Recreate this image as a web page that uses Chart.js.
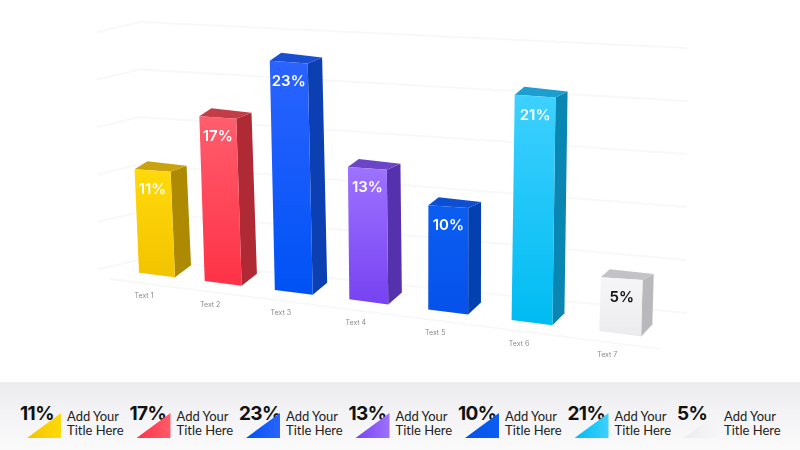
<!DOCTYPE html>
<html>
<head>
<meta charset="utf-8">
<script src="https://cdn.jsdelivr.net/npm/chart.js@4.4.1/dist/chart.umd.min.js"></script>
<style>
  body { margin: 0; width: 800px; height: 450px; overflow: hidden; background: #fff; font-family: Inter, 'Noto Sans', sans-serif; }
  #wrap { position: relative; width: 800px; height: 450px; }
  #chart { position: absolute; left: 0; top: 0; }
  #legend { position: absolute; left: 0; top: 382px; width: 800px; height: 68px;
    background: linear-gradient(#ececef, #f4f4f6 50%, #fafafb); }
  .item { position: absolute; top: 0; height: 68px; width: 110px; }
  .pct { position: absolute; left: 0; top: 20px; font: 700 19px Inter, sans-serif; color: #111; letter-spacing: -0.6px; }
  .tri { position: absolute; left: 7px; top: 31px; width: 34px; height: 25px; clip-path: polygon(100% 0, 100% 100%, 0 100%); }
  .ttl { position: absolute; left: 47px; top: 27px; font: 400 13px/14px Lato, sans-serif; color: #222; white-space: nowrap; }
</style>
</head>
<body>
<div id="wrap">
  <canvas id="chart" width="800" height="380"></canvas>
  <div id="legend"></div>
</div>
<script>
const labels = ['Text 1', 'Text 2', 'Text 3', 'Text 4', 'Text 5', 'Text 6', 'Text 7'];
const values = [11, 17, 23, 13, 10, 21, 5];
const gridSteps = [0, 5, 10, 15, 20, 25];
const legendTitles = ['Add Your<br>Title Here', 'Add Your<br>Title Here', 'Add Your<br>Title Here', 'Add Your<br>Title Here', 'Add Your<br>Title Here', 'Add Your<br>Title Here', 'Add Your<br>Title Here'];

// colours per bar: front top, front bottom, side, top face, label
const frontTop = ['#ffd90a', '#ff5d6d', '#2a63ff', '#9d72ff', '#0b5df2', '#3ed0ff', '#f6f6f8'];
const frontBottom = ['#f3c400', '#ff3247', '#0052f5', '#7843f2', '#0652ea', '#00bcf2', '#ececef'];
const sideColors = ['#ad8a00', '#b02a36', '#0b3fb2', '#5631ae', '#0340b0', '#0a86b2', '#b9b9bd'];
const topColors = ['#c9a30e', '#c23d48', '#1a4ed2', '#6a46c6', '#0c4fd2', '#1c9fd0', '#c3c3c7'];
const textColors = ['#fff', '#fff', '#fff', '#fff', '#fff', '#fff', '#111'];

// perspective constants
const X0 = 157, Y0 = 275, FLOOR = 0.127;

function barGeo(chart, i) {
  const xs = chart.scales.x;
  const bar = chart.getDatasetMeta(0).data[i];
  const step = xs.getPixelForValue(1) - xs.getPixelForValue(0);
  const u = (bar.x - xs.getPixelForValue(0)) / step;
  const k = 1 + 0.027 * u;
  const cx = bar.x + 2.2 * u * u;
  const by = Y0 + FLOOR * (cx - X0);
  return { u: u, cx: cx, by: by, h: (bar.base - bar.y) * k, w: bar.width * k };
}

function poly(ctx, pts, fill) {
  ctx.beginPath();
  ctx.moveTo(pts[0][0], pts[0][1]);
  for (let p = 1; p < pts.length; p++) ctx.lineTo(pts[p][0], pts[p][1]);
  ctx.closePath();
  ctx.fillStyle = fill;
  ctx.fill();
}

const bars3d = {
  id: 'bars3d',
  beforeDatasetsDraw(chart) {
    const ctx = chart.ctx;
    const ys = chart.scales.y;
    const y0 = ys.getPixelForValue(0);
    ctx.save();
    ctx.strokeStyle = 'rgba(60,60,110,0.035)';
    ctx.lineWidth = 2;
    gridSteps.forEach(v => {
      const yL = ys.getPixelForValue(v);
      const yR = 313 - (y0 - yL) * 1.116;
      ctx.beginPath();
      ctx.moveTo(97, yL + 10);
      ctx.lineTo(140, yL);
      ctx.lineTo(687, yR);
      ctx.stroke();
    });
    // front floor edge
    ctx.beginPath();
    ctx.moveTo(110, Y0 + FLOOR * (110 - X0) + 10);
    ctx.lineTo(660, Y0 + FLOOR * (660 - X0) + 10);
    ctx.stroke();
    ctx.restore();
  },
  afterDatasetsDraw(chart) {
    const ctx = chart.ctx;
    ctx.save();
    values.forEach((v, i) => {
      const g = barGeo(chart, i);
      const hw = g.w / 2;
      const lean = (g.cx - 440) * g.h * 1.5e-4;
      const tx = g.cx + lean, ty = g.by - g.h;
      const BL = [g.cx - hw, g.by - 0.13 * hw], BR = [g.cx + hw, g.by + 0.13 * hw];
      const TL = [tx - hw, ty - 0.07 * hw], TR = [tx + hw, ty + 0.07 * hw];
      const dx = 16 - 0.8 * g.u;
      const TRb = [TR[0] + dx, TR[1] - 6], TLb = [TL[0] + dx * 0.8, TL[1] - 8], BRb = [BR[0] + dx, BR[1] - 12];

      poly(ctx, [TR, TRb, BRb, BR], sideColors[i]);
      poly(ctx, [TL, TR, TRb, TLb], topColors[i]);
      const grad = ctx.createLinearGradient(0, ty, 0, g.by);
      grad.addColorStop(0, frontTop[i]);
      grad.addColorStop(1, frontBottom[i]);
      poly(ctx, [TL, TR, BR, BL], grad);

      ctx.fillStyle = textColors[i];
      ctx.font = '600 15px Inter, sans-serif';
      ctx.textAlign = 'center';
      ctx.textBaseline = 'middle';
      ctx.fillText(v + '%', tx, ty + 19);

      ctx.fillStyle = '#8a8a8e';
      ctx.font = '7px Inter, sans-serif';
      ctx.fillText(labels[i], g.cx - 13, g.by + 21);
    });
    ctx.restore();
  }
};

new Chart(document.getElementById('chart'), {
  type: 'bar',
  data: {
    labels: labels,
    datasets: [{
      data: values,
      backgroundColor: 'rgba(0,0,0,0)',
      categoryPercentage: 1,
      barPercentage: 0.5625
    }]
  },
  options: {
    responsive: false,
    animation: false,
    layout: { padding: { left: 125, right: 227, top: 22, bottom: 120.5 } },
    plugins: { legend: { display: false }, tooltip: { enabled: false } },
    scales: {
      x: { display: false },
      y: { display: false, min: 0, max: 25 }
    }
  },
  plugins: [bars3d]
});

// bottom legend strip
const legend = document.getElementById('legend');
values.forEach((v, i) => {
  const item = document.createElement('div');
  item.className = 'item';
  item.style.left = (20 + i * 109.5) + 'px';
  item.innerHTML = `
    <div class="pct">${v}%</div>
    <div class="tri" style="background:linear-gradient(to right, ${frontBottom[i]}, ${frontTop[i]})"></div>
    <div class="ttl">${legendTitles[i]}</div>`;
  legend.appendChild(item);
});
</script>
</body>
</html>
